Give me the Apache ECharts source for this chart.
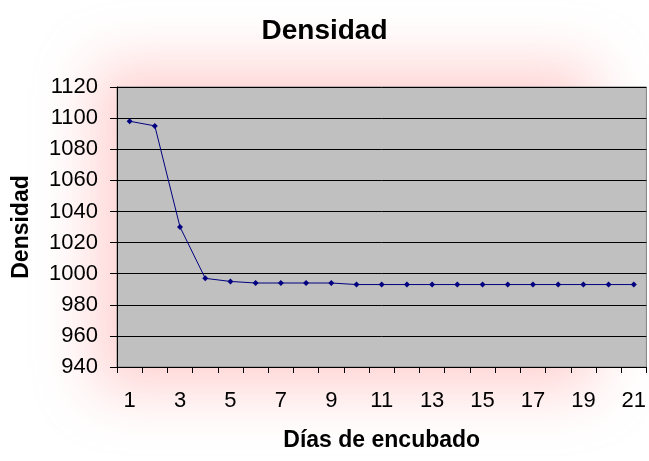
<!DOCTYPE html>
<html><head><meta charset="utf-8">
<script src="https://cdn.jsdelivr.net/npm/echarts@6/dist/echarts.min.js"></script>
<style>
html,body{margin:0;padding:0;background:#fff;overflow:hidden;}
#glow{position:absolute;left:125px;top:95px;width:440px;height:265px;background:rgba(255,190,190,0.75);box-shadow:0 0 55px 30px rgba(255,190,190,0.7);}
#chart{position:absolute;left:0;top:0;width:649px;height:461px;}
</style></head>
<body>
<div id="glow"></div>
<div id="chart"></div>
<script>
const days = ['1','2','3','4','5','6','7','8','9','10','11','12','13','14','15','16','17','18','19','20','21'];
const densidad = [1098,1095,1030,997,995,994,994,994,994,993,993,993,993,993,993,993,993,993,993,993,993];
const yMin = 940, yMax = 1120, yStep = 20;

const numFont = "'Liberation Sans', Arial, sans-serif";
const chart = echarts.init(document.getElementById('chart'));
chart.setOption({
  backgroundColor: 'transparent',
  title: {text:'Densidad', left:'center', top:12, textStyle:{fontFamily:'Liberation Sans', fontWeight:'bold', fontSize:28, color:'#000'}},
  grid: {left:117, right:1, top:87, bottom:94, show:true, backgroundColor:'#C0C0C0', borderColor:'#808080', borderWidth:1},
  xAxis: {
    type:'category', data:days, boundaryGap:true,
    name:'Días de encubado', nameLocation:'middle', nameGap:62,
    nameTextStyle:{fontFamily:'Liberation Sans', fontWeight:'bold', fontSize:23, color:'#000'},
    axisLine:{lineStyle:{color:'#000', width:1}},
    axisTick:{show:true, interval:0, length:6, lineStyle:{color:'#000'}},
    axisLabel:{interval:1, margin:23, fontFamily:numFont, fontSize:22, color:'#000'},
    splitLine:{show:false}
  },
  yAxis: {
    type:'value', min:yMin, max:yMax, interval:yStep,
    name:'Densidad', nameLocation:'middle', nameGap:84, nameRotate:90,
    nameTextStyle:{fontFamily:'Liberation Sans', fontWeight:'bold', fontSize:23, color:'#000'},
    axisLine:{show:true, lineStyle:{color:'#000', width:1}},
    axisTick:{show:true, length:7, lineStyle:{color:'#000'}},
    axisLabel:{margin:19, fontFamily:numFont, fontSize:22, color:'#000', formatter:v=>String(v)},
    splitLine:{show:true, lineStyle:{color:'#000', width:1}}
  },
  series: [{
    type:'line', data:densidad, symbol:'diamond', symbolSize:6,
    lineStyle:{color:'#000080', width:1}, itemStyle:{color:'#000080'},
    animation:false
  }]
});
</script>
</body></html>
